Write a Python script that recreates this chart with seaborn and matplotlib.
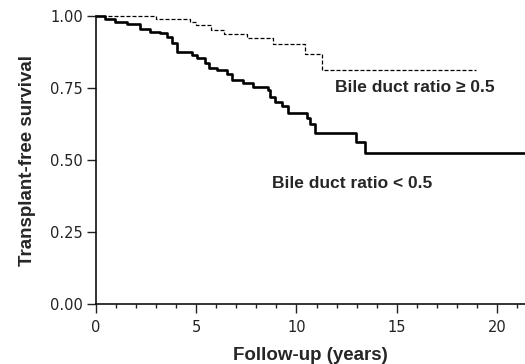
import numpy as np
import pandas as pd
import matplotlib
matplotlib.use("Agg")
import matplotlib.pyplot as plt
import seaborn as sns

# Kaplan-Meier step estimates (time in years, survival fraction)
high_time = [0.0, 2.98, 4.70, 5.00, 5.75, 6.40, 7.55, 8.85, 10.45, 11.25, 18.95]
high_surv = [1.000, 0.991, 0.980, 0.968, 0.953, 0.939, 0.922, 0.904, 0.868, 0.8125, 0.8125]

low_time = [0.0, 0.45, 0.95, 1.53, 2.19, 2.69, 3.19, 3.53, 3.77, 4.06, 4.77, 5.02,
            5.44, 5.65, 6.02, 6.52, 6.77, 7.35, 7.85, 8.59, 8.68, 8.93, 9.26, 9.59,
            10.51, 10.68, 10.93, 12.97, 13.42, 21.5]
low_surv = [1.000, 0.990, 0.979, 0.972, 0.954, 0.944, 0.942, 0.928, 0.905, 0.876,
            0.865, 0.853, 0.838, 0.818, 0.8125, 0.799, 0.778, 0.766, 0.752, 0.743,
            0.720, 0.702, 0.6875, 0.664, 0.645, 0.625, 0.595, 0.5637, 0.5255, 0.5255]

group_labels = ["Bile duct ratio \u2265 0.5", "Bile duct ratio < 0.5"]
x_ticks = [0, 5, 10, 15, 20]
y_ticks = [0.00, 0.25, 0.50, 0.75, 1.00]

df = pd.concat([
    pd.DataFrame({"time": high_time, "surv": high_surv, "group": group_labels[0]}),
    pd.DataFrame({"time": low_time, "surv": low_surv, "group": group_labels[1]}),
])

sns.set_style("ticks")
plt.rcParams["font.family"] = ["DejaVu Sans"]

fig = plt.figure(figsize=(5.25, 3.64), dpi=100)
ax = fig.add_axes([96 / 525, 60 / 364, 1 - 96 / 525, 288 / 364])

sns.lineplot(data=df[df.group == group_labels[1]], x="time", y="surv",
             estimator=None, sort=False, drawstyle="steps-post",
             color="black", linewidth=1.9, ax=ax, clip_on=False)
sns.lineplot(data=df[df.group == group_labels[0]], x="time", y="surv",
             estimator=None, sort=False, drawstyle="steps-post",
             color="black", linewidth=0.9, linestyle=(0, (3.2, 1.6)),
             ax=ax, clip_on=False)

ax.set_xlim(0, 21.4)
ax.set_ylim(0, 1.0)
ax.set_xticks(x_ticks)
ax.set_xticks(np.arange(0, 22, 1), minor=True)
ax.set_yticks(y_ticks)
ax.set_yticklabels([f"{v:.2f}" for v in y_ticks])
ax.tick_params(axis="both", which="major", length=6.5, width=1.0,
               labelsize=10.5, colors="#222222", pad=3)
ax.tick_params(axis="x", which="major", pad=5)
ax.tick_params(axis="x", which="minor", length=3, width=1.0, color="#222222")
ax.tick_params(axis="y", which="minor", length=0)
for side in ("top", "right"):
    ax.spines[side].set_visible(False)
for side in ("left", "bottom"):
    ax.spines[side].set_linewidth(1.2)
    ax.spines[side].set_color("#111111")

bold = dict(family=["Liberation Sans", "DejaVu Sans"], fontweight="bold")
ax.set_xlabel("Follow-up (years)", labelpad=9, fontsize=13.5, **bold)
ax.set_ylabel("Transplant-free survival", labelpad=10, fontsize=13.5, **bold)

ax.text(15.91, 0.753, group_labels[0], ha="center", va="center", fontsize=12.5, **bold)
ax.text(12.77, 0.419, group_labels[1], ha="center", va="center", fontsize=12.5, **bold)

fig.savefig("out.png", dpi=100)
